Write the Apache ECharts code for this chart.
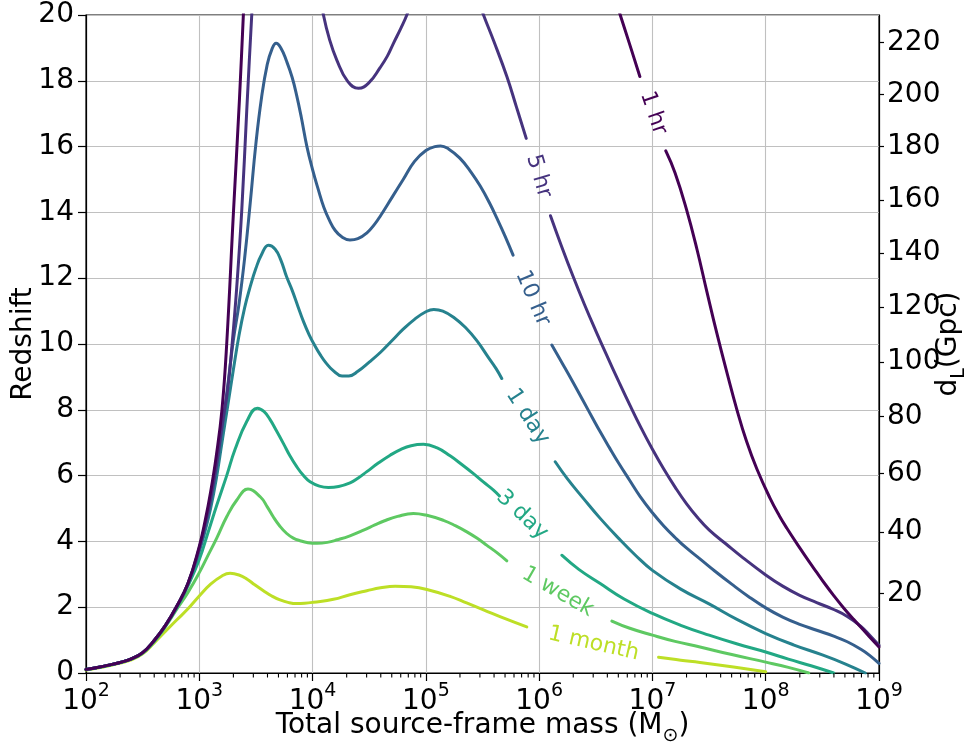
<!DOCTYPE html>
<html><head><meta charset="utf-8">
<script src="https://cdn.jsdelivr.net/npm/echarts@6/dist/echarts.min.js"></script>
<style>html,body{margin:0;padding:0;background:#fff}#c{width:971px;height:742px}</style>
</head><body><div id="c"></div>
<script>
const FONT = 'DejaVu Sans';

// contour levels (time to merger) and their colours
const levelNames  = ['1 hr', '5 hr', '10 hr', '1 day', '3 day', '1 week', '1 month'];
const levelColors = ['#440154', '#46337e', '#355f8d', '#26828e', '#22a884', '#5ec962', '#bddf26'];

// each curve: [log10(total source-frame mass / Msun), redshift]; null = gap where the inline label sits
const curve1hr = [[2.0,0.11],[2.1,0.17],[2.2,0.24],[2.3,0.32],[2.4,0.43],[2.5,0.62],[2.6,0.98],[2.7,1.44],[2.8,2.02],[2.9,2.72],[3.0,3.85],[3.05,4.6],[3.1,5.5],[3.15,6.6],[3.2,8.0],[3.242,10.0],[3.3,13.9],[3.354,17.4],[3.389,20.0],[3.40,20.8],
  null,
  [6.69,20.3],[6.716,20.0],[6.8,19.1],[6.889,18.13],
  null,
  [7.118,15.87],[7.2,15.2],[7.3,14.1],[7.393,12.88],[7.48,11.6],[7.569,10.32],[7.66,9.1],[7.746,8.0],[7.83,7.05],[7.922,6.2],[8.04,5.3],[8.12,4.78],[8.187,4.4],[8.305,3.78],[8.38,3.4],[8.452,3.05],[8.52,2.72],[8.599,2.36],[8.69,1.97],[8.776,1.63],[8.89,1.2],[9.0,0.79]];

const curve5hr = [[2.0,0.11],[2.1,0.17],[2.2,0.24],[2.3,0.32],[2.4,0.43],[2.5,0.62],[2.6,0.98],[2.7,1.44],[2.8,2.02],[2.9,2.72],[3.0,3.8],[3.05,4.5],[3.1,5.3],[3.15,6.3],[3.2,7.5],[3.25,8.6],[3.29,10.0],[3.33,11.7],[3.375,14.07],[3.419,17.1],[3.463,20.0],[3.48,21.0],
  null,
  [4.07,20.6],[4.096,20.0],[4.15,19.25],[4.214,18.63],[4.31,17.98],[4.405,17.77],[4.5,17.95],[4.596,18.4],[4.66,18.75],[4.714,19.14],[4.78,19.6],[4.832,20.0],[4.86,20.3],
  null,
  [5.48,20.3],[5.509,20.0],[5.6,19.2],[5.715,18.13],[5.8,17.2],[5.886,16.25],
  null,
  [6.1,13.9],[6.2,12.95],[6.3,12.05],[6.4,11.2],[6.5,10.4],[6.6,9.63],[6.7,8.88],[6.8,8.15],[6.9,7.45],[7.0,6.8],[7.1,6.2],[7.2,5.65],[7.3,5.15],[7.4,4.72],[7.5,4.35],[7.65,3.92],[7.8,3.5],[8.0,2.98],[8.15,2.64],[8.3,2.36],[8.45,2.14],[8.6,1.93],[8.72,1.72],[8.84,1.42],[8.92,1.14],[9.0,0.84]];

const curve10hr = [[2.0,0.11],[2.1,0.17],[2.2,0.24],[2.3,0.32],[2.4,0.43],[2.5,0.62],[2.6,0.98],[2.7,1.44],[2.8,2.02],[2.9,2.72],[3.0,3.75],[3.05,4.4],[3.1,5.2],[3.15,6.2],[3.2,7.4],[3.25,8.7],[3.3,10.1],[3.35,11.2],[3.4,12.6],[3.45,14.3],[3.5,16.1],[3.55,17.5],[3.6,18.5],[3.64,18.95],[3.678,19.14],[3.72,19.0],[3.77,18.6],[3.82,18.1],[3.86,17.55],[3.9,16.9],[3.95,16.0],[4.0,15.3],[4.05,14.7],[4.1,14.15],[4.15,13.75],[4.2,13.45],[4.26,13.25],[4.33,13.16],[4.4,13.2],[4.48,13.38],[4.55,13.65],[4.6,13.9],[4.7,14.45],[4.8,15.0],[4.9,15.55],[5.0,15.88],[5.08,16.0],[5.13,16.02],[5.2,15.93],[5.3,15.65],[5.4,15.22],[5.48,14.8],[5.56,14.3],[5.63,13.8],[5.7,13.27],[5.77,12.7],
  null,
  [6.112,9.97],[6.2,9.44],[6.3,8.83],[6.392,8.25],[6.47,7.76],[6.539,7.33],[6.62,6.85],[6.7,6.39],[6.8,5.85],[6.892,5.36],[7.0,4.87],[7.1,4.47],[7.2,4.12],[7.3,3.8],[7.422,3.46],[7.55,3.1],[7.7,2.7],[7.85,2.32],[8.0,1.98],[8.15,1.7],[8.3,1.48],[8.45,1.3],[8.6,1.12],[8.72,0.95],[8.84,0.72],[8.92,0.53],[9.0,0.29]];

const curve1day = [[2.0,0.11],[2.1,0.17],[2.2,0.24],[2.3,0.32],[2.4,0.43],[2.5,0.62],[2.6,0.98],[2.7,1.44],[2.8,2.0],[2.9,2.7],[3.0,3.7],[3.05,4.3],[3.1,5.0],[3.15,5.9],[3.2,7.0],[3.25,8.1],[3.3,9.2],[3.35,10.25],[3.4,11.1],[3.45,11.75],[3.5,12.3],[3.55,12.72],[3.61,13.0],[3.67,12.88],[3.72,12.55],[3.77,12.05],[3.82,11.63],[3.87,11.15],[3.92,10.68],[3.97,10.28],[4.02,9.95],[4.07,9.66],[4.12,9.42],[4.18,9.2],[4.26,9.03],[4.32,9.03],[4.4,9.17],[4.5,9.45],[4.6,9.75],[4.7,10.1],[4.8,10.45],[4.9,10.75],[5.0,10.98],[5.07,11.05],[5.15,11.0],[5.25,10.8],[5.35,10.5],[5.45,10.1],[5.55,9.6],[5.62,9.25],[5.67,8.95],
  null,
  [6.142,6.42],[6.25,5.9],[6.392,5.30],[6.539,4.70],[6.7,4.1],[6.85,3.58],[7.0,3.12],[7.25,2.55],[7.5,2.1],[7.75,1.62],[8.0,1.2],[8.25,0.85],[8.5,0.55],[8.7,0.28],[8.879,0.0]];

const curve3day = [[2.0,0.11],[2.1,0.17],[2.2,0.24],[2.3,0.32],[2.4,0.43],[2.5,0.61],[2.6,0.96],[2.7,1.42],[2.8,1.98],[2.9,2.65],[3.0,3.45],[3.08,4.3],[3.154,5.1],[3.242,6.0],[3.316,6.8],[3.42,7.65],[3.513,8.05],[3.57,7.95],[3.625,7.7],[3.68,7.37],[3.742,6.98],[3.8,6.6],[3.86,6.27],[3.92,6.0],[3.978,5.81],[4.06,5.68],[4.14,5.64],[4.23,5.67],[4.331,5.78],[4.4,5.92],[4.479,6.12],[4.58,6.38],[4.685,6.62],[4.78,6.8],[4.87,6.91],[4.979,6.95],[5.1,6.84],[5.214,6.6],[5.32,6.33],[5.42,6.06],[5.51,5.8],[5.597,5.56],[5.65,5.38],
  null,
  [6.2,3.58],[6.35,3.15],[6.539,2.72],[6.75,2.25],[7.0,1.81],[7.25,1.45],[7.5,1.15],[7.75,0.88],[8.0,0.64],[8.2,0.42],[8.4,0.22],[8.6,0.0]];

const curve1week = [[2.0,0.1],[2.1,0.16],[2.2,0.23],[2.3,0.31],[2.4,0.42],[2.5,0.6],[2.6,0.94],[2.7,1.4],[2.8,1.93],[2.9,2.45],[3.0,3.05],[3.066,3.5],[3.154,4.1],[3.242,4.75],[3.33,5.25],[3.43,5.59],[3.54,5.35],[3.6,5.05],[3.654,4.74],[3.71,4.47],[3.772,4.24],[3.83,4.1],[3.89,4.02],[3.96,3.96],[4.04,3.94],[4.13,3.97],[4.22,4.05],[4.33,4.17],[4.45,4.34],[4.55,4.5],[4.63,4.62],[4.75,4.76],[4.89,4.85],[5.0,4.8],[5.155,4.64],[5.26,4.48],[5.362,4.29],[5.45,4.1],[5.539,3.88],[5.63,3.65],[5.715,3.41],
  null,
  [6.642,1.58],[6.8,1.36],[7.0,1.15],[7.2,0.96],[7.42,0.79],[7.7,0.56],[8.0,0.33],[8.2,0.17],[8.38,0.0]];

const curve1month = [[2.0,0.09],[2.1,0.15],[2.2,0.22],[2.3,0.3],[2.4,0.4],[2.5,0.58],[2.6,0.91],[2.7,1.26],[2.8,1.61],[2.9,1.95],[3.0,2.34],[3.1,2.7],[3.2,2.95],[3.272,3.03],[3.35,2.98],[3.419,2.86],[3.49,2.68],[3.566,2.5],[3.64,2.34],[3.713,2.22],[3.79,2.14],[3.86,2.11],[3.93,2.12],[4.007,2.15],[4.184,2.24],[4.33,2.38],[4.479,2.5],[4.6,2.59],[4.729,2.64],[4.87,2.62],[5.009,2.54],[5.214,2.33],[5.36,2.13],[5.509,1.92],[5.7,1.65],[5.891,1.40],
  null,
  [7.054,0.48],[7.25,0.39],[7.42,0.32],[7.716,0.18],[8.0,0.04]];

const curves = [curve1hr, curve5hr, curve10hr, curve1day, curve3day, curve1week, curve1month];

// inline contour labels: position (log10 mass, redshift) and downward slope angle in degrees
const labelLgM  = [7.007, 5.996, 5.943, 5.898, 5.85, 6.164, 6.48];
const labelZ    = [17.02, 15.1, 11.39, 7.79, 4.8, 2.46, 0.89];
const labelAngle = [71, 73.6, 67, 57, 43, 30, 13];

// axes
const xTickExp = [2, 3, 4, 5, 6, 7, 8, 9];
const yTicks = [0, 2, 4, 6, 8, 10, 12, 14, 16, 18, 20];
// right axis: luminosity distance ticks (Gpc) and the redshift where each sits
const dlTicks = [20, 40, 60, 80, 100, 120, 140, 160, 180, 200, 220];
const dlTickZ = [2.41, 4.29, 6.07, 7.79, 9.46, 11.13, 12.76, 14.38, 16.0, 17.59, 19.16];

const minorTickMasses = [];
for (let e = xTickExp[0]; e < xTickExp[xTickExp.length - 1]; e++) {
  for (let k = 2; k <= 9; k++) minorTickMasses.push([k * Math.pow(10, e), 0]);
}

const toMass = lg => Math.pow(10, lg);

const lineSeries = curves.map((c, i) => ({
  type: 'line',
  name: levelNames[i],
  data: c.map(p => p ? [toMass(p[0]), p[1]] : ['-', '-']),
  showSymbol: false,
  symbol: 'none',
  smooth: 0.45,
  connectNulls: false,
  clip: true,
  lineStyle: { color: levelColors[i], width: 3, cap: 'round', join: 'round' },
  z: 10 - i * 0.1,
  silent: true,
  animation: false
}));

const labelSeries = {
  type: 'custom',
  coordinateSystem: 'cartesian2d',
  xAxisIndex: 0, yAxisIndex: 0,
  data: labelLgM.map((l, i) => [toMass(l), labelZ[i], i]),
  encode: { x: 0, y: 1 },
  clip: false,
  silent: true,
  z: 20,
  renderItem: function (params, api) {
    const idx = api.value(2);
    const p = api.coord([api.value(0), api.value(1)]);
    return {
      type: 'text',
      x: p[0], y: p[1],
      rotation: -labelAngle[idx] * Math.PI / 180,
      style: {
        text: levelNames[idx],
        fill: levelColors[idx],
        font: '22px "DejaVu Sans"',
        align: 'center',
        verticalAlign: 'middle'
      }
    };
  }
};

const minorTickSeries = {
  type: 'custom',
  coordinateSystem: 'cartesian2d',
  xAxisIndex: 0, yAxisIndex: 0,
  data: minorTickMasses,
  encode: { x: 0, y: 1 },
  clip: false,
  silent: true,
  z: 20,
  renderItem: function (params, api) {
    const p = api.coord([api.value(0), api.value(1)]);
    return {
      type: 'line',
      shape: { x1: p[0], y1: p[1], x2: p[0], y2: p[1] + 4.5 },
      style: { stroke: '#000', lineWidth: 1.1 }
    };
  }
};

const chart = echarts.init(document.getElementById('c'), null, { renderer: 'canvas' });
chart.setOption({
  animation: false,
  backgroundColor: '#fff',
  textStyle: { fontFamily: FONT },
  grid: { left: 86, right: 92, top: 15, bottom: 69, show: true, borderColor: '#000', borderWidth: 1.2, containLabel: false, outerBoundsMode: 'none' },
  xAxis: {
    type: 'log', logBase: 10, min: toMass(xTickExp[0]), max: toMass(xTickExp[xTickExp.length - 1]),
    splitNumber: 7,
    name: '{t|Total source-frame mass (M}{s|\u2299}{t|)}',
    nameLocation: 'middle', nameGap: 39, nameMoveOverlap: false,
    nameTextStyle: {
      rich: {
        t: { fontSize: 28, fontFamily: FONT, color: '#000', verticalAlign: 'top', lineHeight: 34 },
        s: { fontSize: 19, fontFamily: FONT, color: '#000', verticalAlign: 'bottom', lineHeight: 34 }
      }
    },
    axisLine: { show: true, lineStyle: { color: '#000', width: 1.2 } },
    axisTick: { show: true, length: 8, lineStyle: { color: '#000', width: 1.2 } },
    axisLabel: {
      margin: 9,
      formatter: v => '{b|10}{s|' + Math.round(Math.log10(v)) + '}',
      rich: {
        b: { fontSize: 28, fontFamily: FONT, color: '#000', verticalAlign: 'bottom', lineHeight: 34 },
        s: { fontSize: 19, fontFamily: FONT, color: '#000', verticalAlign: 'top', lineHeight: 34 }
      }
    },
    splitLine: { show: true, lineStyle: { color: '#c0c0c0', width: 1.1 } }
  },
  yAxis: [{
    type: 'value', min: yTicks[0], max: yTicks[yTicks.length - 1], interval: 2,
    name: 'Redshift', nameLocation: 'middle', nameGap: 48, nameRotate: 90, nameMoveOverlap: false,
    nameTextStyle: { fontSize: 28, fontFamily: FONT, color: '#000' },
    axisLine: { show: true, lineStyle: { color: '#000', width: 1.2 } },
    axisTick: { show: true, length: 8, lineStyle: { color: '#000', width: 1.2 } },
    axisLabel: { fontSize: 28, fontFamily: FONT, color: '#000', margin: 12 },
    splitLine: { show: true, lineStyle: { color: '#c0c0c0', width: 1.1 } }
  }, {
    type: 'value', min: yTicks[0], max: yTicks[yTicks.length - 1], position: 'right',
    name: '{d|d}{s|L}{d|(Gpc)}', nameLocation: 'middle', nameGap: 56, nameRotate: 90, nameMoveOverlap: false,
    nameTextStyle: {
      rich: {
        d: { fontSize: 28, fontFamily: FONT, color: '#000', verticalAlign: 'top', lineHeight: 34 },
        s: { fontSize: 19, fontFamily: FONT, color: '#000', verticalAlign: 'bottom', lineHeight: 34 }
      }
    },
    axisLine: { show: true, lineStyle: { color: '#000', width: 1.2 } },
    axisTick: { show: true, length: 5, customValues: dlTickZ, lineStyle: { color: '#000', width: 1.2 } },
    axisLabel: {
      fontSize: 28, fontFamily: FONT, color: '#000', margin: 8,
      customValues: dlTickZ,
      formatter: v => {
        let best = 0;
        dlTickZ.forEach((z, i) => { if (Math.abs(z - v) < Math.abs(dlTickZ[best] - v)) best = i; });
        return String(dlTicks[best]);
      }
    },
    splitLine: { show: false }
  }],
  series: [...lineSeries, labelSeries, minorTickSeries]
});
</script></body></html>
